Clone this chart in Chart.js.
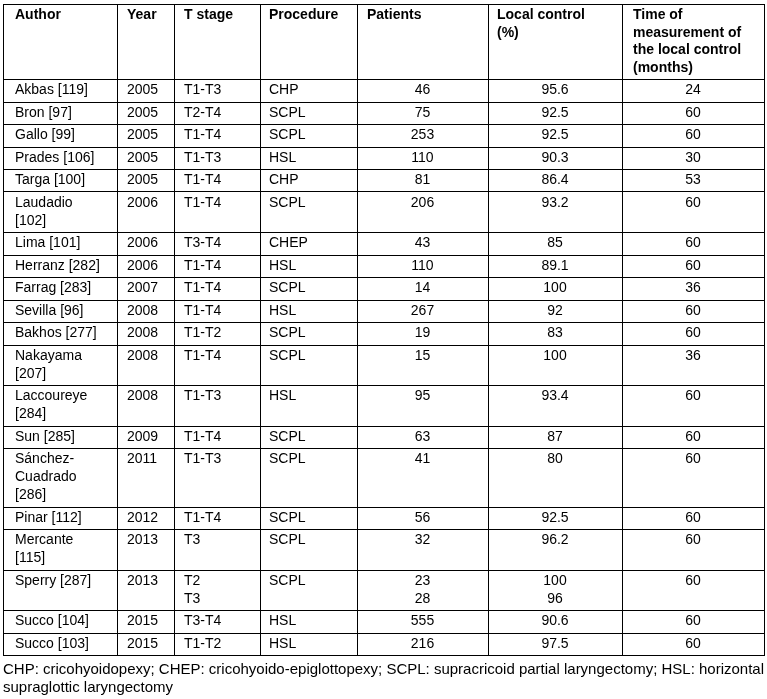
<!DOCTYPE html>
<html>
<head>
<meta charset="utf-8">
<title>Local control after open partial laryngectomy</title>
<script src="https://cdn.jsdelivr.net/npm/chart.js@4/dist/chart.umd.min.js"></script>
<style>
  html, body { margin: 0; padding: 0; background: #fff; }
  canvas { display: block; }
</style>
</head>
<body>
<canvas id="table" width="767" height="699"></canvas>
<script>
const headers = ['Author', 'Year', 'T stage', 'Procedure', 'Patients', ['Local control', '(%)'], ['Time of', 'measurement of', 'the local control', '(months)']];

const authors = [
  'Akbas [119]', 'Bron [97]', 'Gallo [99]', 'Prades [106]', 'Targa [100]', ['Laudadio', '[102]'],
  'Lima [101]', 'Herranz [282]', 'Farrag [283]', 'Sevilla [96]', 'Bakhos [277]', ['Nakayama', '[207]'],
  ['Laccoureye', '[284]'], 'Sun [285]', ['Sánchez-', 'Cuadrado', '[286]'], 'Pinar [112]', ['Mercante', '[115]'],
  'Sperry [287]', 'Succo [104]', 'Succo [103]'
];
const years = [2005, 2005, 2005, 2005, 2005, 2006, 2006, 2006, 2007, 2008, 2008, 2008, 2008, 2009, 2011, 2012, 2013, 2013, 2015, 2015];
const tStages = ['T1-T3', 'T2-T4', 'T1-T4', 'T1-T3', 'T1-T4', 'T1-T4', 'T3-T4', 'T1-T4', 'T1-T4', 'T1-T4', 'T1-T2', 'T1-T4', 'T1-T3', 'T1-T4', 'T1-T3', 'T1-T4', 'T3', ['T2', 'T3'], 'T3-T4', 'T1-T2'];
const procedures = ['CHP', 'SCPL', 'SCPL', 'HSL', 'CHP', 'SCPL', 'CHEP', 'HSL', 'SCPL', 'HSL', 'SCPL', 'SCPL', 'HSL', 'SCPL', 'SCPL', 'SCPL', 'SCPL', 'SCPL', 'HSL', 'HSL'];
const patients = [46, 75, 253, 110, 81, 206, 43, 110, 14, 267, 19, 15, 95, 63, 41, 56, 32, [23, 28], 555, 216];
const localControl = [95.6, 92.5, 92.5, 90.3, 86.4, 93.2, 85, 89.1, 100, 92, 83, 100, 93.4, 87, 80, 92.5, 96.2, [100, 96], 90.6, 97.5];
const months = [24, 60, 60, 30, 53, 60, 60, 60, 36, 60, 60, 36, 60, 60, 60, 60, 60, 60, 60, 60];

const footnote = [
  'CHP: cricohyoidopexy; CHEP: cricohyoido-epiglottopexy; SCPL: supracricoid partial laryngectomy; HSL: horizontal',
  'supraglottic laryngectomy'
];

// layout of the grid (in pixel units of the scales)
const colWidths = [114, 57, 86, 97, 131, 134, 142];
const colAlign = ['left', 'left', 'left', 'left', 'center', 'center', 'center'];
const colPad = [12, 10, 10, 9, 10, 9, 11];
const rowBase = 22.5;
const bodyStep = 18;
const headStep = 17.5;
const fontFamily = "'Liberation Sans', Arial, Helvetica, sans-serif";

const toLines = v => (Array.isArray(v) ? v : [v]).map(String);

const headRow = headers.map(toLines);
const bodyRows = authors.map((a, i) =>
  [a, years[i], tStages[i], procedures[i], patients[i], localControl[i], months[i]].map(toLines)
);

const rowLines = row => Math.max(...row.map(c => c.length));
const headHeight = rowBase + headStep * (rowLines(headRow) - 1);
const bodyHeights = bodyRows.map(r => rowBase + bodyStep * (rowLines(r) - 1));
const totalWidth = colWidths.reduce((s, w) => s + w, 0);
const totalHeight = headHeight + bodyHeights.reduce((s, h) => s + h, 0);

const colEdges = [0];
colWidths.forEach(w => colEdges.push(colEdges[colEdges.length - 1] + w));

const crisp = v => Math.round(v) + 0.5;

const tablePlugin = {
  id: 'tableGrid',
  afterDraw(chart) {
    const { ctx } = chart;
    const xs = chart.scales.x;
    const ys = chart.scales.y;
    const px = v => xs.getPixelForValue(v);
    const py = v => ys.getPixelForValue(v);

    ctx.save();
    ctx.fillStyle = '#000';
    ctx.textBaseline = 'middle';

    const drawRow = (row, top, step, bold, alignFor) => {
      ctx.font = `${bold ? 'bold ' : ''}14px ${fontFamily}`;
      row.forEach((lines, c) => {
        const align = alignFor(c);
        ctx.textAlign = align;
        const x = align === 'center'
          ? px((colEdges[c] + colEdges[c + 1]) / 2)
          : px(colEdges[c] + colPad[c]);
        lines.forEach((txt, k) => {
          ctx.fillText(txt, x, py(top + rowBase / 2 + k * step));
        });
      });
    };

    // text
    drawRow(headRow, 0, headStep, true, () => 'left');
    const rowTops = [0, headHeight];
    bodyRows.forEach((row, i) => {
      const top = rowTops[rowTops.length - 1];
      drawRow(row, top, bodyStep, false, c => colAlign[c]);
      rowTops.push(top + bodyHeights[i]);
    });

    // grid lines
    ctx.strokeStyle = '#000';
    ctx.lineWidth = 1;
    ctx.beginPath();
    rowTops.forEach(t => {
      const y = crisp(py(t));
      ctx.moveTo(crisp(px(0)) - 0.5, y);
      ctx.lineTo(crisp(px(totalWidth)) + 0.5, y);
    });
    colEdges.forEach(e => {
      const x = crisp(px(e));
      ctx.moveTo(x, crisp(py(0)));
      ctx.lineTo(x, crisp(py(totalHeight)));
    });
    ctx.stroke();
    ctx.restore();
  }
};

new Chart(document.getElementById('table'), {
  type: 'scatter',
  data: { datasets: [] },
  options: {
    responsive: false,
    animation: false,
    devicePixelRatio: 1,
    events: [],
    layout: { padding: { left: 3, right: 3, top: 4, bottom: 0 } },
    scales: {
      x: { type: 'linear', min: 0, max: totalWidth, display: false },
      y: { type: 'linear', min: 0, max: totalHeight, reverse: true, display: false }
    },
    plugins: {
      legend: { display: false },
      tooltip: { enabled: false },
      title: {
        display: true,
        position: 'bottom',
        align: 'start',
        text: footnote,
        color: '#000',
        font: { family: fontFamily, size: 15, weight: 'normal', lineHeight: '18px' },
        padding: { top: 6, bottom: 2 }
      }
    }
  },
  plugins: [tablePlugin]
});
</script>
</body>
</html>
